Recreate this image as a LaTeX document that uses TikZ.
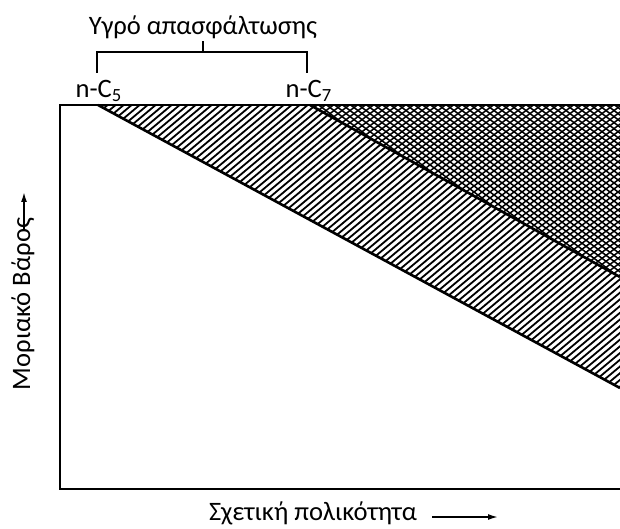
\documentclass[tikz,border=0pt]{standalone}
\usepackage{fontspec}
\setmainfont{Carlito}
\usepackage{tikz}
\usetikzlibrary{arrows.meta}

\begin{document}
\begin{tikzpicture}[
  x=0.5pt, y=-0.5pt,
  every node/.style={font=\fontsize{13.3}{15}\selectfont, inner sep=1pt},
  frame/.style={line width=1pt},
  edge/.style={line width=1.3pt},
  hatch/.style={line width=0.9pt},
  cross/.style={line width=0.75pt},
  bracket/.style={line width=0.8pt},
  arrow/.style={-{Latex[length=5pt, width=3pt]}, line width=0.8pt}
]
  \useasboundingbox (0,0) rectangle (620,529);

  % Schraffur zwischen den Diagonalen
  \begin{scope}
    \clip (98,105) -- (310,105) -- (620,277) -- (620,388) -- cycle;
    \foreach \x in {-340,-332,...,640}
      \draw[hatch] (\x,400) -- ++(360,-302);
  \end{scope}

  % Kreuzschraffur oben rechts
  \begin{scope}
    \clip (310,105) -- (620,105) -- (620,277) -- cycle;
    \foreach \x in {-120,-112,...,640} {
      \draw[cross] (\x,290) -- ++(260,-196);
      \draw[cross] (\x,100) -- ++(260,196);
    }
  \end{scope}

  % Rahmen und Grenzlinien
  \draw[frame] (620,105) -- (60,105) -- (60,489) -- (620,489);
  \draw[edge] (98,105) -- (620,388);
  \draw[edge] (310,105) -- (620,277);

  % Beschriftungen
  \node (liquid) at (203,27) {Υγρό απασφάλτωσης};
  \node (c5) at (99,91) {n-C\textsubscript{5}};
  \node (c7) at (309,91) {n-C\textsubscript{7}};
  \node[rotate=90] (mw) at (23,304) {Μοριακό Βάρος};
  \node (pol) at (313,513) {Σχετική πολικότητα};

  % Klammer
  \coordinate (b5) at (97,73);
  \coordinate (b7) at (307,73);
  \draw[bracket] (b5) -- (97,52) -- (307,52) -- (b7);
  \draw[bracket] (203,52) -- (liquid.south);

  % Achsenpfeile
  \coordinate (ytail) at (24,230);
  \coordinate (ytip) at (24,192);
  \draw[arrow] (ytail) -- (ytip);
  \coordinate (xtail) at (432,517);
  \coordinate (xtip) at (498,517);
  \draw[arrow] (xtail) -- (xtip);
\end{tikzpicture}
\end{document}
